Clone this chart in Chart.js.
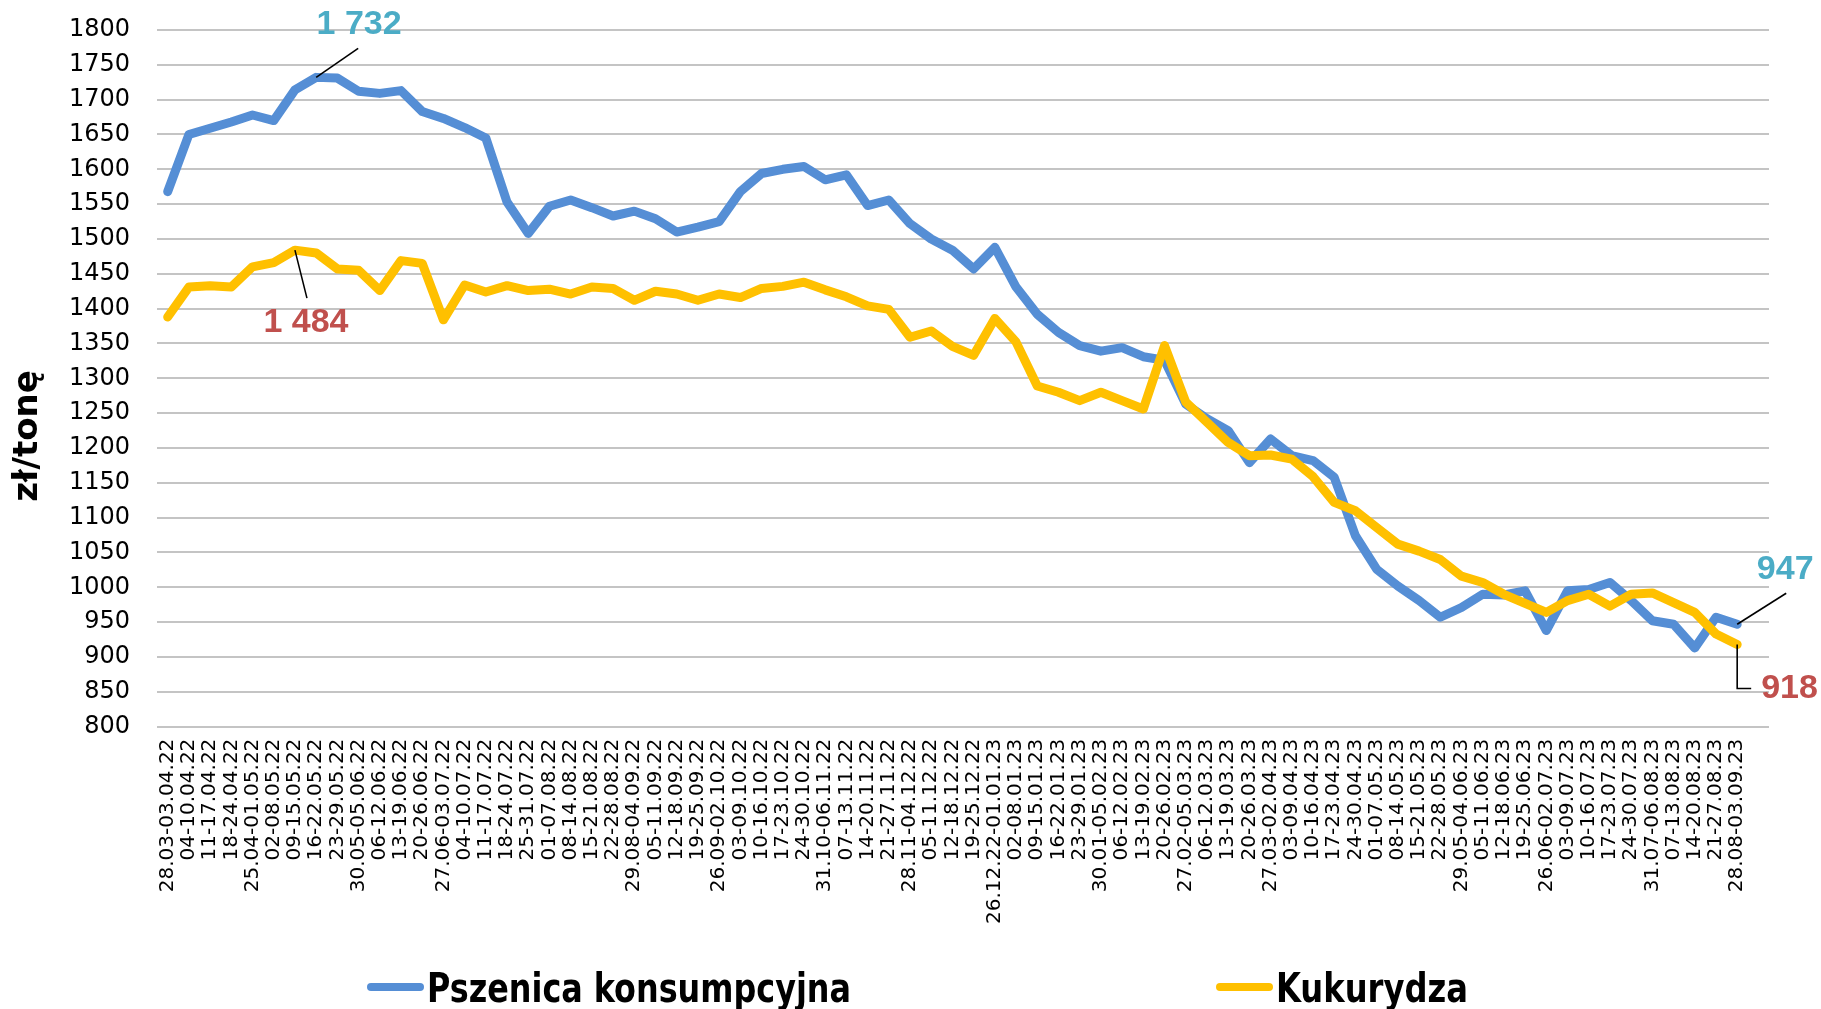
<!DOCTYPE html>
<html lang="pl">
<head>
<meta charset="utf-8">
<title>Ceny pszenicy konsumpcyjnej i kukurydzy</title>
<script src="https://cdn.jsdelivr.net/npm/chart.js@4/dist/chart.umd.min.js"></script>
<style>
  html, body { margin: 0; padding: 0; background: #ffffff; }
  #wrap { width: 1821px; height: 1009px; position: relative; }
</style>
</head>
<body>
<div id="wrap"><canvas id="chart"></canvas></div>
<script>
// Tygodnie notowań
const weeks = [
  '28.03-03.04.22', '04-10.04.22', '11-17.04.22', '18-24.04.22', '25.04-01.05.22',
  '02-08.05.22', '09-15.05.22', '16-22.05.22', '23-29.05.22', '30.05-05.06.22',
  '06-12.06.22', '13-19.06.22', '20-26.06.22', '27.06-03.07.22', '04-10.07.22',
  '11-17.07.22', '18-24.07.22', '25-31.07.22', '01-07.08.22', '08-14.08.22',
  '15-21.08.22', '22-28.08.22', '29.08-04.09.22', '05-11.09.22', '12-18.09.22',
  '19-25.09.22', '26.09-02.10.22', '03-09.10.22', '10-16.10.22', '17-23.10.22',
  '24-30.10.22', '31.10-06.11.22', '07-13.11.22', '14-20.11.22', '21-27.11.22',
  '28.11-04.12.22', '05-11.12.22', '12-18.12.22', '19-25.12.22', '26.12.22-01.01.23',
  '02-08.01.23', '09-15.01.23', '16-22.01.23', '23-29.01.23', '30.01-05.02.23',
  '06-12.02.23', '13-19.02.23', '20-26.02.23', '27.02-05.03.23', '06-12.03.23',
  '13-19.03.23', '20-26.03.23', '27.03-02.04.23', '03-09.04.23', '10-16.04.23',
  '17-23.04.23', '24-30.04.23', '01-07.05.23', '08-14.05.23', '15-21.05.23',
  '22-28.05.23', '29.05-04.06.23', '05-11.06.23', '12-18.06.23', '19-25.06.23',
  '26.06-02.07.23', '03-09.07.23', '10-16.07.23', '17-23.07.23', '24-30.07.23',
  '31.07-06.08.23', '07-13.08.23', '14-20.08.23', '21-27.08.23', '28.08-03.09.23'
];

// Pszenica konsumpcyjna, zł/tonę
const wheat = [
  1568, 1650, 1659, 1668, 1678, 1670, 1714, 1732, 1731, 1712,
  1709, 1713, 1683, 1673, 1660, 1645, 1553, 1508, 1547, 1556,
  1545, 1533, 1540, 1529, 1510, 1517, 1525, 1568, 1594, 1600,
  1604, 1585, 1592, 1548, 1556, 1522, 1500, 1484, 1457, 1488,
  1431, 1392, 1366, 1347, 1339, 1344, 1331, 1326, 1263, 1242,
  1225, 1179, 1213, 1189, 1182, 1158, 1074, 1026, 1002, 981,
  957, 971, 990, 989, 995, 938, 995, 997, 1007, 981,
  952, 947, 913, 957, 947
];

// Kukurydza, zł/tonę
const corn = [
  1388, 1431, 1433, 1431, 1460, 1466, 1484, 1480, 1457, 1455,
  1426, 1469, 1465, 1384, 1434, 1424, 1433, 1426, 1428, 1421,
  1431, 1429, 1412, 1425, 1421, 1412, 1421, 1416, 1429, 1432,
  1438, 1427, 1417, 1404, 1399, 1359, 1368, 1346, 1333, 1386,
  1352, 1289, 1280, 1268, 1280, 1268, 1256, 1347, 1266, 1237,
  1208, 1189, 1190, 1184, 1159, 1122, 1110, 1086, 1062, 1052,
  1040, 1016, 1007, 990, 977, 964, 981, 990, 973, 990,
  992, 978, 964, 933, 918
];

const seriesNames = ['Pszenica konsumpcyjna', 'Kukurydza'];
const yMin = 800, yMax = 1800, yStep = 50;
const yTitle = 'zł/tonę';

const BLUE = '#558ED5';
const GOLD = '#FFC000';
const TEAL = '#4BACC6';
const RED = '#C0504D';

// "1732" -> "1 732"
function fmt(v) {
  return String(v).replace(/\B(?=(\d{3})+(?!\d))/g, ' ');
}
function argMax(arr) {
  let k = 0;
  arr.forEach((v, i) => { if (v > arr[k]) k = i; });
  return k;
}

// Callouts: maximum and latest value of each series
const callouts = [
  { ds: 0, idx: argMax(wheat), color: TEAL, leader: [[42, -29]], label: [43, -53], align: 'center' },
  { ds: 1, idx: argMax(corn), color: RED, leader: [[12, 48]], label: [11, 72], align: 'center' },
  { ds: 0, idx: wheat.length - 1, color: TEAL, leader: [[49, -31]], label: [48, -55], align: 'center' },
  { ds: 1, idx: corn.length - 1, color: RED, leader: [[0, 44], [14, 44]], label: [24, 44], align: 'left' }
];

const calloutPlugin = {
  id: 'callouts',
  afterDatasetsDraw(chart) {
    const ctx = chart.ctx;
    ctx.save();
    callouts.forEach(c => {
      const pt = chart.getDatasetMeta(c.ds).data[c.idx];
      const value = chart.data.datasets[c.ds].data[c.idx];
      ctx.strokeStyle = '#000000';
      ctx.lineWidth = 1.6;
      ctx.beginPath();
      ctx.moveTo(pt.x, pt.y);
      c.leader.forEach(([dx, dy]) => ctx.lineTo(pt.x + dx, pt.y + dy));
      ctx.stroke();
      ctx.fillStyle = c.color;
      ctx.font = 'bold 34px "Liberation Sans", Arial, sans-serif';
      ctx.textAlign = c.align;
      ctx.textBaseline = 'middle';
      ctx.fillText(fmt(value), pt.x + c.label[0], pt.y + c.label[1]);
    });
    ctx.restore();
  }
};

// Vertical axis title, drawn beside the tick labels
const axisTitlePlugin = {
  id: 'axisTitle',
  afterDraw(chart) {
    const ctx = chart.ctx;
    ctx.save();
    ctx.translate(28, 436);
    ctx.rotate(-Math.PI / 2);
    ctx.fillStyle = '#000000';
    ctx.font = 'bold 34px "DejaVu Sans", sans-serif';
    ctx.textAlign = 'center';
    ctx.textBaseline = 'middle';
    ctx.fillText(yTitle, 0, 0);
    ctx.restore();
  }
};

// Legend along the bottom edge (condensed bold type)
const legendPlugin = {
  id: 'bottomLegend',
  afterDraw(chart) {
    const ctx = chart.ctx;
    const startX = [367, 1216];
    const textWidth = [424, 192];
    const lineY = 987;
    ctx.save();
    chart.data.datasets.forEach((ds, i) => {
      const x = startX[i];
      ctx.strokeStyle = ds.borderColor;
      ctx.lineWidth = 8;
      ctx.lineCap = 'round';
      ctx.beginPath();
      ctx.moveTo(x + 4, lineY);
      ctx.lineTo(x + 53, lineY);
      ctx.stroke();
      ctx.fillStyle = '#000000';
      ctx.font = 'bold 40px "DejaVu Sans Condensed", "DejaVu Sans", sans-serif';
      ctx.textAlign = 'left';
      ctx.textBaseline = 'alphabetic';
      const w = ctx.measureText(ds.label).width;
      const sx = Math.min(1, textWidth[i] / w);
      ctx.save();
      ctx.translate(x + 60, lineY + 15);
      ctx.scale(sx, 1);
      ctx.fillText(ds.label, 0, 0);
      ctx.restore();
    });
    ctx.restore();
  }
};

new Chart(document.getElementById('chart'), {
  type: 'line',
  data: {
    labels: [...weeks, ''],
    datasets: [
      {
        label: seriesNames[0],
        data: wheat,
        borderColor: BLUE,
        backgroundColor: BLUE,
        borderWidth: 9,
        pointRadius: 0,
        tension: 0,
        borderCapStyle: 'round',
        borderJoinStyle: 'round',
        order: 1
      },
      {
        label: seriesNames[1],
        data: corn,
        borderColor: GOLD,
        backgroundColor: GOLD,
        borderWidth: 9,
        pointRadius: 0,
        tension: 0,
        borderCapStyle: 'round',
        borderJoinStyle: 'round',
        order: 0
      }
    ]
  },
  options: {
    responsive: true,
    maintainAspectRatio: false,
    devicePixelRatio: 1,
    animation: false,
    layout: { padding: { left: 69, right: 52, top: 30, bottom: 73 } },
    plugins: {
      legend: { display: false },
      tooltip: { enabled: false }
    },
    scales: {
      x: {
        offset: true,
        grid: { display: false, drawTicks: false },
        border: { display: false },
        ticks: {
          autoSkip: false,
          maxRotation: 90,
          minRotation: 90,
          padding: 12,
          color: '#000000',
          font: { family: '"DejaVu Sans", sans-serif', size: 20 }
        }
      },
      y: {
        min: yMin,
        max: yMax,
        grid: { color: '#c4c4c4', lineWidth: 2, drawTicks: true, tickLength: 27, tickColor: 'rgba(0,0,0,0)' },
        border: { display: false },
        ticks: {
          stepSize: yStep,
          autoSkip: false,
          padding: 0,
          color: '#000000',
          font: { family: '"DejaVu Sans", sans-serif', size: 24 },
          callback: (v) => String(v)
        }
      }
    }
  },
  plugins: [calloutPlugin, axisTitlePlugin, legendPlugin]
});
</script>
</body>
</html>
